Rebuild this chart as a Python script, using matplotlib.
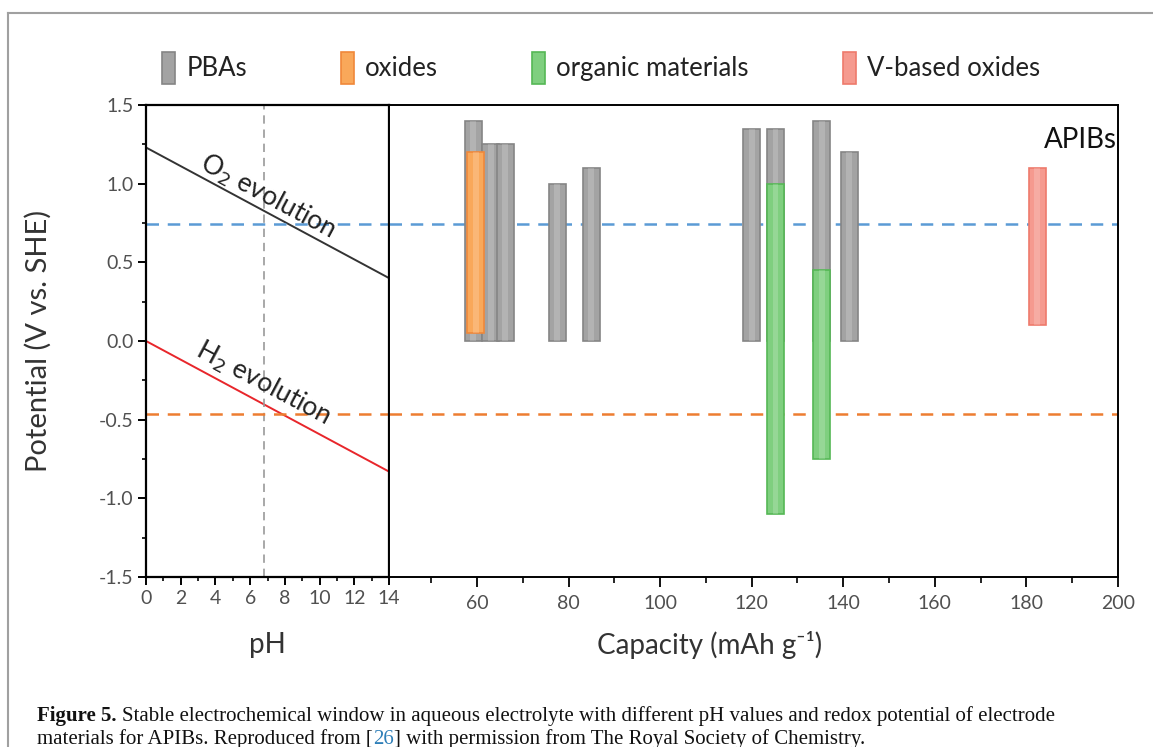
import matplotlib
matplotlib.use("Agg")
import matplotlib.pyplot as plt
from matplotlib.patches import Patch
from matplotlib.lines import Line2D
import numpy as np

# ---------------- data ----------------
ph_range = [0, 14]
o2_potential = [1.23, 0.40]
h2_potential = [0.0, -0.83]
neutral_ph = 6.8
upper_ref = 0.745
lower_ref = -0.465

categories = ["PBAs", "oxides", "organic materials", "V-based oxides"]
pba_capacity = [59.2, 63.0, 66.2, 77.5, 85.0, 120.0, 125.2, 135.3, 141.3]
pba_low = [0.0, 0.0, 0.0, 0.0, 0.0, 0.0, 0.0, 0.0, 0.0]
pba_high = [1.40, 1.25, 1.25, 1.00, 1.10, 1.35, 1.35, 1.40, 1.20]
oxide_capacity = [59.7]
oxide_low = [0.05]
oxide_high = [1.20]
organic_capacity = [125.2, 135.3]
organic_low = [-1.10, -0.75]
organic_high = [1.00, 0.45]
vox_capacity = [182.4]
vox_low = [0.10]
vox_high = [1.10]

ph_ticks = [0, 2, 4, 6, 8, 10, 12, 14]
pot_ticks = [-1.5, -1.0, -0.5, 0.0, 0.5, 1.0, 1.5]
cap_ticks = [60, 80, 100, 120, 140, 160, 180, 200]

# ---------------- style ----------------
FONT = "Lato"
plt.rcParams['font.family'] = [FONT, 'DejaVu Sans']
TICKC = '#505050'
face = {"PBAs": "#a3a3a3", "oxides": "#f9a85a",
        "organic materials": "#7fcf7f", "V-based oxides": "#f59a8f"}
edge = {"PBAs": "#858585", "oxides": "#f0883a",
        "organic materials": "#55b855", "V-based oxides": "#ee7a6c"}

W, H = 1153, 747
fig = plt.figure(figsize=(W / 100, H / 100), dpi=100)

def fx(px):
    return px / W

def fy(py):
    return 1 - py / H

x_left, x_mid, x_right = 146, 389, 1118
y_top, y_bot = 105, 577
axL = fig.add_axes([fx(x_left), fy(y_bot), fx(x_mid - x_left), fy(y_top) - fy(y_bot)])
axR = fig.add_axes([fx(x_mid), fy(y_bot), fx(x_right - x_mid), fy(y_top) - fy(y_bot)])

# ---- left panel ----
axL.set_xlim(0, 14)
axL.set_ylim(-1.5, 1.5)
axL.plot(ph_range, o2_potential, color='#333333', lw=1.4)
axL.plot(ph_range, h2_potential, color='#e8262b', lw=1.4)
axL.axvline(neutral_ph, color='#9a9a9a', lw=1.2, ls=(0, (5, 3.5)))
axL.axhline(upper_ref, color='#5b9bd5', lw=1.8, ls=(0, (5, 3.5)))
axL.axhline(lower_ref, color='#ed7d31', lw=1.8, ls=(0, (5, 3.5)))
axL.set_xticks(ph_ticks)
axL.set_xticks(np.arange(1, 14, 2), minor=True)
axL.set_yticks(pot_ticks)
axL.set_yticks(np.arange(-1.25, 1.5, 0.5), minor=True)
axL.set_yticklabels([f"{v:.1f}" for v in pot_ticks])
axL.tick_params(which='major', direction='out', length=6, width=1.4,
                labelsize=14, labelcolor=TICKC, pad=3)
axL.tick_params(which='minor', direction='out', length=3, width=1.2)
for s in axL.spines.values():
    s.set_linewidth(1.6)
axL.set_xlabel("pH", fontsize=20, color='#333333', labelpad=18)
axL.set_ylabel("Potential (V vs. SHE)", fontsize=21, color='#333333', labelpad=34)
axL.text(7.0, 0.915, "O$_2$ evolution", rotation=-28, rotation_mode='anchor',
         ha='center', va='center', fontsize=19, color='#222222')
axL.text(6.75, -0.27, "H$_2$ evolution", rotation=-28, rotation_mode='anchor',
         ha='center', va='center', fontsize=19, color='#222222')

# ---- right panel ----
axR.set_xlim(40.8, 200)
axR.set_ylim(-1.5, 1.5)
axR.axhline(upper_ref, color='#5b9bd5', lw=1.8, ls=(0, (5, 3.5)))
axR.axhline(lower_ref, color='#ed7d31', lw=1.8, ls=(0, (5, 3.5)))
bw = 3.7

def bars(caps, lows, highs, cat, z):
    h = [hi - lo for lo, hi in zip(lows, highs)]
    axR.bar(caps, h, bottom=lows, width=bw, color=face[cat], edgecolor=edge[cat],
            linewidth=1.2, zorder=z)
    axR.bar(caps, h, bottom=lows, width=bw * 0.35, color='white', alpha=0.18,
            linewidth=0, zorder=z + 0.1)

bars(pba_capacity, pba_low, pba_high, "PBAs", 3)
bars(oxide_capacity, oxide_low, oxide_high, "oxides", 4)
bars(organic_capacity, organic_low, organic_high, "organic materials", 4)
bars(vox_capacity, vox_low, vox_high, "V-based oxides", 4)

axR.set_xticks(cap_ticks)
axR.set_xticks(np.arange(50, 200, 20), minor=True)
axR.set_yticks([])
axR.tick_params(which='major', direction='out', length=7, width=1.3,
                labelsize=14, labelcolor=TICKC, pad=6)
axR.tick_params(which='minor', direction='out', length=4, width=1.2)
for s in axR.spines.values():
    s.set_linewidth(1.4)
axR.set_xlabel("Capacity (mAh g\u207b\u00b9)", fontsize=20, color='#333333', labelpad=14)
axR.xaxis.set_label_coords((710 - x_mid) / (x_right - x_mid), -0.115)
axR.text(0.998, 0.925, "APIBs", transform=axR.transAxes, ha='right', va='center',
         fontsize=20, color='#111111')

# ---- legend ----
handles = [Patch(facecolor=face[c], edgecolor=edge[c], linewidth=1.2) for c in categories]
fig.legend(handles, categories, loc='center left', bbox_to_anchor=(fx(162), fy(68)),
           ncol=4, frameon=False, fontsize=18.5, handlelength=0.5, handleheight=1.5,
           handletextpad=0.45, columnspacing=3.65, borderpad=0, borderaxespad=0,
           labelcolor='#222222')

# ---- outer frame ----
fig.add_artist(Line2D([fx(8), 1], [fy(13), fy(13)], color='#a0a0a0', lw=1.5))
fig.add_artist(Line2D([fx(8), fx(8)], [fy(13), 0], color='#a0a0a0', lw=1.5))

# ---- caption ----
fig.canvas.draw()
r = fig.canvas.get_renderer()
cap_font = ['Liberation Serif', 'DejaVu Serif']
csize = 15.0

def put(x, y, s, color='#111111', **kw):
    t = fig.text(x, y, s, fontsize=csize, family=cap_font, va='baseline',
                 color=color, transform=None, **kw)
    bb = t.get_window_extent(r)
    return bb.x1

y1 = H - 721
x = put(37, y1, "Figure 5.", weight='bold')
put(x + 5, y1, "Stable electrochemical window in aqueous electrolyte with different pH values "
    "and redox potential of electrode")
y2 = H - 744
x = put(37, y2, "materials for APIBs. Reproduced from [")
x = put(x, y2, "26", color='#2e7fb8')
x = put(x, y2, "] with permission from The Royal Society of Chemistry.")

fig.savefig("out.png", dpi=100)
